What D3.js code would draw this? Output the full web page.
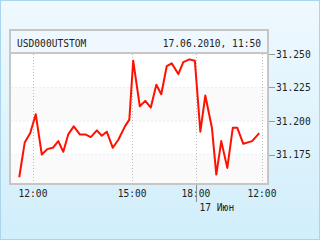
<!DOCTYPE html>
<html>
<head>
<meta charset="utf-8">
<script src="https://cdn.jsdelivr.net/npm/d3@7"></script>
<style>
  body { margin: 0; background: #fff; }
  svg { display: block; }
  .lbl { font-family: "DejaVu Sans Mono", monospace; font-size: 9.6px; fill: #222; }
</style>
</head>
<body>
<div id="chart"></div>
<script>
// minutes on the chart's (compressed) time axis, 0 = 12:00
const minutes = [-25, -15, -5, 5, 16, 26, 36, 46, 55, 64, 74, 85, 95, 105, 116, 125, 134, 145, 155, 167,
  175, 182, 194, 204, 214, 224, 233, 243, 252, 264, 273, 284, 294, 304, 313, 325, 333, 342, 353, 363,
  371, 382, 398, 411];
const prices = [31.158, 31.184, 31.191, 31.205, 31.175, 31.179, 31.180, 31.185, 31.177, 31.190,
  31.196, 31.190, 31.190, 31.188, 31.193, 31.189, 31.192, 31.180, 31.186, 31.196,
  31.201, 31.245, 31.211, 31.215, 31.210, 31.227, 31.220, 31.241, 31.243, 31.235,
  31.244, 31.246, 31.245, 31.192, 31.219, 31.195, 31.160, 31.185, 31.165, 31.195,
  31.195, 31.183, 31.185, 31.191];
const xTicks = [0, 180, 296, 416];
const xTickLabels = ['12:00', '15:00', '18:00', '12:00'];
const yTicks = [31.175, 31.200, 31.225, 31.250];
const title = 'USD000UTSTOM';
const stamp = '17.06.2010, 11:50';
const dayLabel = '17 Июн';

let w = 320, h = 240;
let box = {left: 10, right: 268, top: 53, bottom: 184};

let svg = d3.select('#chart').append('svg').attr('width', w).attr('height', h);

// background gradient
let grad = svg.append('defs').append('linearGradient').attr('id', 'bg')
    .attr('x1', 0).attr('y1', 0).attr('x2', 0).attr('y2', 1);
grad.append('stop').attr('offset', '0%').attr('stop-color', '#eff9fe');
grad.append('stop').attr('offset', '100%').attr('stop-color', '#d1eefb');
svg.append('rect').attr('x', 0.5).attr('y', 0.5).attr('width', w - 1).attr('height', h - 1)
    .attr('fill', 'url(#bg)').attr('stroke', '#a9d6ee');

let x = d3.scaleLinear().domain([0, 416]).range([33, 262]);
let y = d3.scaleLinear().domain([31.175, 31.250]).range([154.5, 54]);

// header box
svg.append('rect').attr('x', box.left).attr('y', 30).attr('width', box.right - box.left).attr('height', box.top - 30)
    .attr('fill', '#eef8fe').attr('stroke', '#c6c6c6').attr('stroke-width', 2);
svg.append('text').classed('lbl', true).attr('x', 17).attr('y', 47).text(title);
svg.append('text').classed('lbl', true).attr('x', 261).attr('y', 47).attr('text-anchor', 'end').text(stamp);

// plot box
svg.append('rect').attr('x', box.left).attr('y', box.top).attr('width', box.right - box.left).attr('height', box.bottom - box.top)
    .attr('fill', '#fff').attr('stroke', '#c6c6c6').attr('stroke-width', 2);

//alternating bands
let plot = svg.append('g');
plot.append('rect').attr('x', box.left + 1).attr('width', box.right - box.left - 2)
    .attr('y', y(31.225)).attr('height', y(31.200) - y(31.225)).attr('fill', '#fafafa');
plot.append('rect').attr('x', box.left + 1).attr('width', box.right - box.left - 2)
    .attr('y', y(31.175)).attr('height', box.bottom - 1 - y(31.175)).attr('fill', '#fafafa');
plot.selectAll('.hgrid').data(yTicks.slice(0, 3)).join('line').classed('hgrid', true)
    .attr('x1', box.left + 1).attr('x2', box.right - 1)
    .attr('y1', (d) => y(d)).attr('y2', (d) => y(d))
    .attr('stroke', '#e6f0f8').attr('stroke-dasharray', '2,2');
plot.selectAll('.vgrid').data(xTicks).join('line').classed('vgrid', true)
    .attr('x1', (d) => Math.round(x(d)) + 0.5).attr('x2', (d) => Math.round(x(d)) + 0.5)
    .attr('y1', box.top + 1).attr('y2', box.bottom - 1)
    .attr('stroke', '#bdbdbd').attr('stroke-dasharray', '1,2');

// price line
let line = d3.line().x((d, i) => x(minutes[i])).y((d) => y(d));
svg.append('path').datum(prices).attr('d', line)
    .attr('fill', 'none').attr('stroke', '#ff1000').attr('stroke-width', 2).attr('stroke-linejoin', 'round');

// y axis on the right
let yAxis = svg.append('g');
yAxis.selectAll('line').data(yTicks).join('line')
    .attr('x1', box.right + 1).attr('x2', box.right + 7)
    .attr('y1', (d) => Math.round(y(d)) + 0.5).attr('y2', (d) => Math.round(y(d)) + 0.5)
    .attr('stroke', '#9a9a9a');
yAxis.selectAll('text').data(yTicks).join('text').classed('lbl', true)
    .attr('x', 276).attr('y', (d) => y(d) + 3.5)
    .text((d) => d3.format('.3f')(d));

// x axis labels
svg.selectAll('.xl').data(xTicks).join('text').classed('lbl', true).classed('xl', true)
    .attr('x', (d) => x(d)).attr('y', 197).attr('text-anchor', 'middle')
    .text((d, i) => xTickLabels[i]);

//day separator
let sep = Math.round(x(xTicks[2])) + 0.5;
svg.append('line').attr('x1', sep).attr('x2', sep).attr('y1', box.bottom + 1).attr('y2', 202)
    .attr('stroke', '#8c8c8c').attr('stroke-width', 1);
svg.append('text').classed('lbl', true).attr('x', sep + 3).attr('y', 211).text(dayLabel);
</script>
</body>
</html>
